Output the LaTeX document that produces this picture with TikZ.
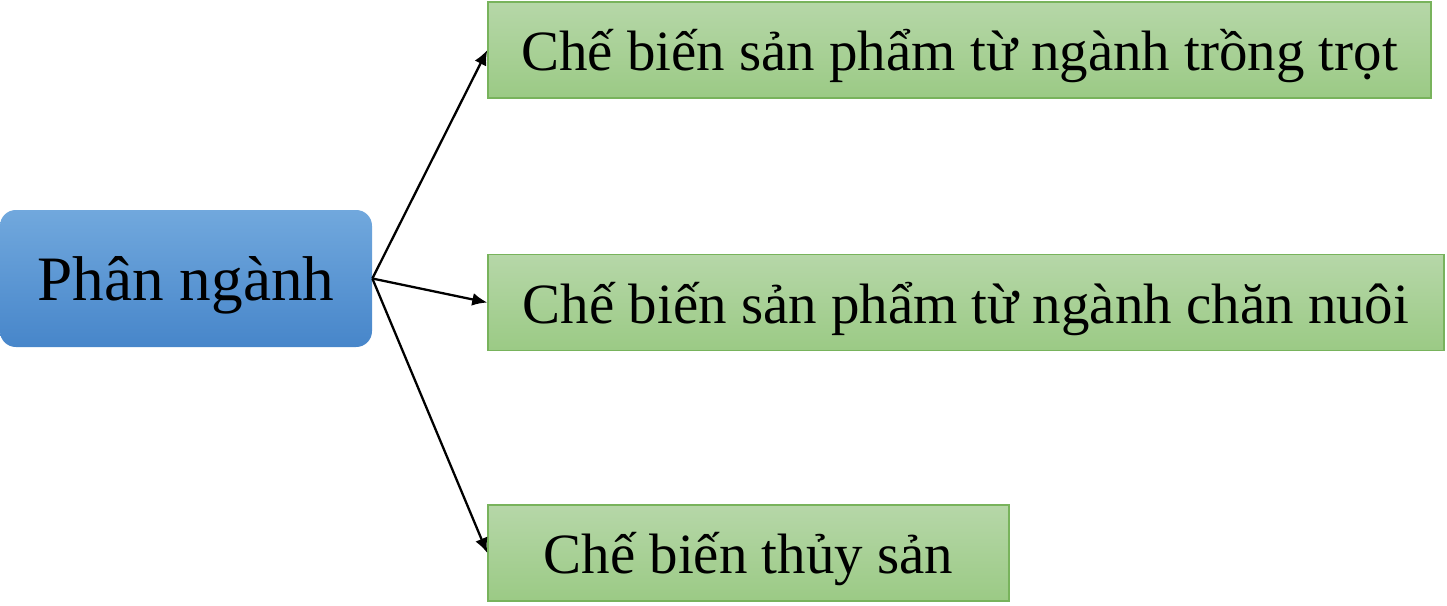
\documentclass[tikz,border=0pt]{standalone}
\usepackage{fontspec}
\setmainfont{Liberation Serif}
\usepackage{tikz}
\usetikzlibrary{arrows.meta}
\definecolor{roottop}{HTML}{71A8DD}
\definecolor{rootbot}{HTML}{4786CA}
\definecolor{branchtop}{HTML}{B6D7A8}
\definecolor{branchbot}{HTML}{9BCA85}
\definecolor{branchline}{HTML}{78B35C}

\begin{document}
\begin{tikzpicture}
[
root/.style={rectangle, rounded corners=9pt, draw=none, top color=roottop, bottom color=rootbot, minimum width=7.44cm, minimum height=2.74cm, text depth=0pt, font=\fontsize{36}{40}\selectfont},
branch/.style={rectangle, draw=branchline, thick, top color=branchtop, bottom color=branchbot, minimum height=1.92cm, text depth=0pt, font=\fontsize{32.4}{38}\selectfont},
link/.style={-{Latex[length=3mm,width=2.6mm]}, line width=1.3pt, black}
]
\useasboundingbox (0,0) rectangle (28.94,-12.12);

%Nodes
\node[root]                            (phan)      at (3.72,-5.57)   {Phân ngành};
\node[branch, minimum width=18.86cm]   (trongtrot) at (19.19,-1.0)   {Chế biến sản phẩm từ ngành trồng trọt};
\node[branch, minimum width=19.12cm]   (channuoi)  at (19.32,-6.05)  {Chế biến sản phẩm từ ngành chăn nuôi};
\node[branch, minimum width=10.42cm]   (thuysan)   at (14.97,-11.06) {Chế biến thủy sản};

%Lines
\draw[link] (phan.east) -- (trongtrot.west);
\draw[link] (phan.east) -- (channuoi.west);
\draw[link] (phan.east) -- (thuysan.west);

\end{tikzpicture}
\end{document}
